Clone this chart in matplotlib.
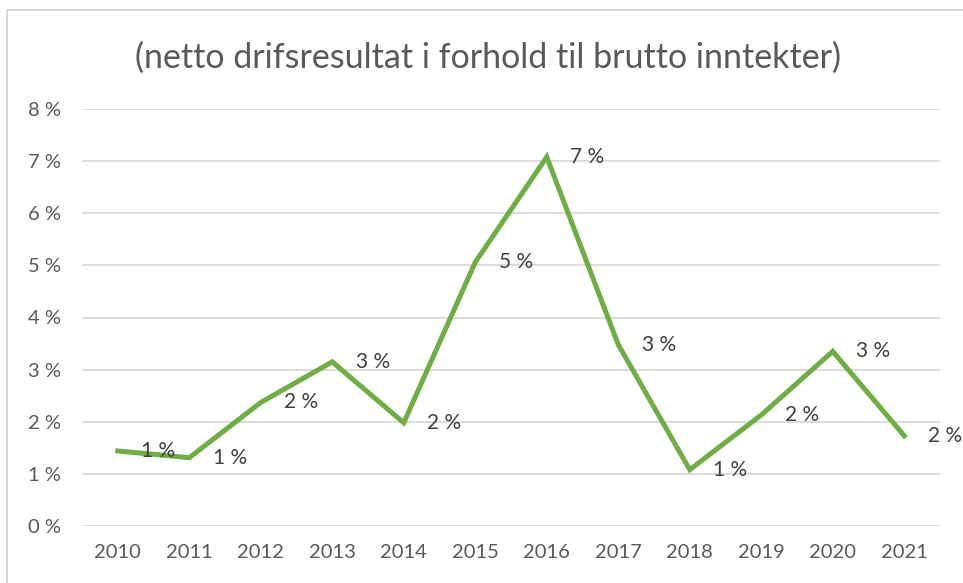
import matplotlib.pyplot as plt
from matplotlib.patches import Rectangle

# andel i prosent, lest av figuren
years = ["2010", "2011", "2012", "2013", "2014", "2015",
         "2016", "2017", "2018", "2019", "2020", "2021"]
values = [1.44, 1.31, 2.37, 3.15, 1.98, 5.06, 7.08, 3.48, 1.08, 2.13, 3.35, 1.73]
yticks = [0, 1, 2, 3, 4, 5, 6, 7, 8]
title = "(netto drifsresultat i forhold til brutto inntekter)"

plt.rcParams['font.family'] = ['Lato', 'DejaVu Sans']

fig = plt.figure(figsize=(9.63, 5.83), dpi=100)
ax = fig.add_axes([82 / 963, 1 - 526 / 583, (940 - 82) / 963, (526 - 109) / 583])

# ramme rundt diagrammet
fig.patches.append(Rectangle((7 / 963, -0.1), 1.2, 1 - 10 / 583 + 0.1,
                             transform=fig.transFigure, fill=False,
                             edgecolor="#d0d0d0", linewidth=1.2))

x = list(range(len(years)))
ax.plot(x, values, color="#70AD47", linewidth=3.6, solid_joinstyle="miter", zorder=3)

for xi, v in zip(x, values):
    ax.annotate(f"{round(v)} %", (xi, v), xytext=(17, 0), textcoords="offset points",
                va="center", ha="left", fontsize=15, color="#404040", zorder=4)

ax.set_xlim(-0.5, len(years) - 0.5)
ax.set_ylim(0, 8)
ax.set_xticks(x)
ax.set_xticklabels(years)
ax.set_yticks(yticks)
ax.set_yticklabels([f"{t} %" for t in yticks])
ax.tick_params(length=0, labelsize=14.5, labelcolor="#595959")
ax.tick_params(axis="x", pad=13)
ax.tick_params(axis="y", pad=15)
ax.grid(axis="y", color="#d9d9d9", linewidth=1.3)
ax.set_axisbelow(True)
for s in ax.spines.values():
    s.set_visible(False)

fig.text(488 / 963, 1 - 58 / 583, title, ha="center", va="center",
         fontsize=24.5, color="#595959")

fig.savefig("out.png", dpi=100)
